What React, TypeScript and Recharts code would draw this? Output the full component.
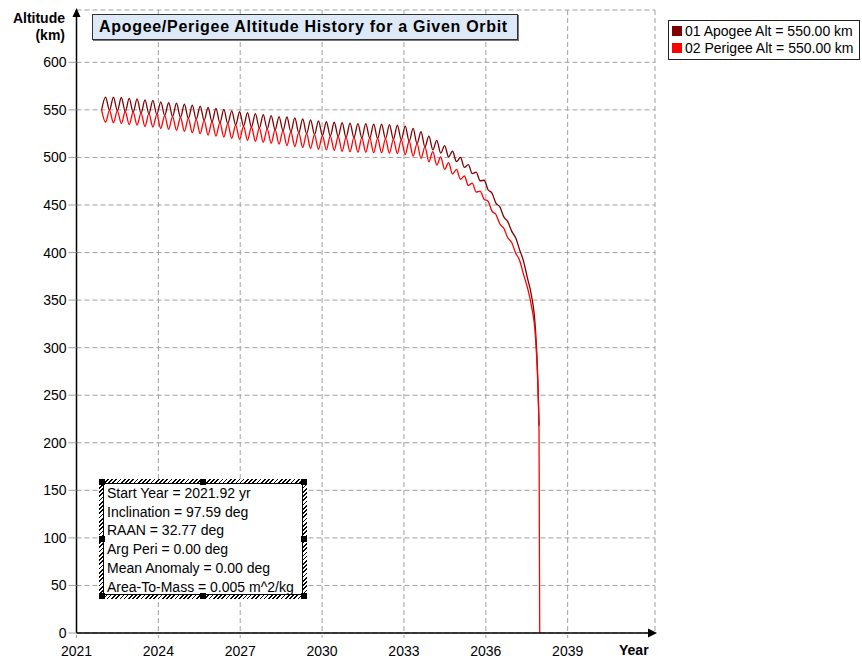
import { LineChart, Line, XAxis, YAxis, CartesianGrid } from 'recharts';

// sample times (yr): alternating near-circular points and apogee/perigee extremes
const sampleYears = [
  2021.92, 2022.065, 2022.209, 2022.354, 2022.498, 2022.643, 2022.787, 2022.932, 2023.076, 2023.221,
  2023.365, 2023.51, 2023.654, 2023.799, 2023.943, 2024.088, 2024.232, 2024.377, 2024.521, 2024.666,
  2024.81, 2024.955, 2025.099, 2025.244, 2025.388, 2025.533, 2025.677, 2025.822, 2025.966, 2026.111,
  2026.255, 2026.4, 2026.544, 2026.689, 2026.833, 2026.978, 2027.122, 2027.267, 2027.411, 2027.556,
  2027.7, 2027.845, 2027.989, 2028.134, 2028.278, 2028.423, 2028.567, 2028.712, 2028.856, 2029.001,
  2029.145, 2029.29, 2029.434, 2029.579, 2029.723, 2029.868, 2030.012, 2030.157, 2030.301, 2030.446,
  2030.59, 2030.735, 2030.879, 2031.024, 2031.168, 2031.313, 2031.457, 2031.602, 2031.746, 2031.891,
  2032.035, 2032.18, 2032.324, 2032.469, 2032.613, 2032.758, 2032.902, 2033.047, 2033.191, 2033.336,
  2033.48, 2033.625, 2033.769, 2033.914, 2034.058, 2034.203, 2034.347, 2034.492, 2034.636, 2034.781,
  2034.925, 2035.07, 2035.214, 2035.359, 2035.503, 2035.648, 2035.792, 2035.937, 2036.081, 2036.226,
  2036.37, 2036.515, 2036.659, 2036.804, 2036.948, 2037.093, 2037.237, 2037.382, 2037.526, 2037.671,
  2037.815, 2037.9, 2037.95, 2037.975,
];

const apogeeAlt = [
  550, 563.5, 549.5, 563.5, 549, 563, 548, 562, 547.5, 561.5,
  546.5, 560.5, 546, 560, 545, 558.5, 544, 557.5, 543, 557,
  542, 556, 541, 555, 540, 554, 539, 552.5, 537.5, 551.5,
  536.5, 550.5, 535.5, 549, 534, 548, 533, 547, 532, 546,
  531, 545, 530, 544, 529, 543, 528, 542.5, 527, 541.5,
  526, 540.5, 525, 539.5, 524, 538.5, 523, 537.5, 522.5, 537,
  522, 536.5, 521, 536, 521, 535.5, 520.5, 535.5, 520.5, 535,
  520, 535, 519.5, 534.5, 519, 534, 518.5, 533, 517, 530.5,
  514.5, 527, 511, 522.5, 508, 518, 504.5, 512.5, 500.5, 506.5,
  495.5, 500, 489.5, 492.5, 483, 484.5, 475.5, 476, 466, 462.5,
  452, 448, 437.5, 432.5, 422.5, 415.5, 403, 391, 373, 355,
  321, 272, 218, null,
];

const perigeeAlt = [
  550, 537, 549.5, 536.5, 549, 535.5, 548, 534.5, 547.5, 534,
  546.5, 532.5, 546, 532, 545, 530.5, 544, 529.5, 543, 528.5,
  542, 527.5, 541, 526, 540, 525, 539, 523.5, 537.5, 522.5,
  536.5, 521.5, 535.5, 520, 534, 519, 533, 518, 532, 517,
  531, 516, 530, 515, 529, 514, 528, 512.5, 527, 511.5,
  526, 510.5, 525, 509.5, 524, 508.5, 523, 508, 522.5, 507.5,
  522, 506.5, 521, 506, 521, 505.5, 520.5, 505.5, 520.5, 505,
  520, 505, 519.5, 504.5, 519, 504, 518.5, 503, 517, 501.5,
  514.5, 499, 511, 495.5, 506, 492, 500.5, 487.5, 494.5, 482.5,
  487.5, 477, 480.5, 470.5, 473, 463.5, 464.5, 456, 454, 443.5,
  440, 430, 425.5, 415.5, 410.5, 399.5, 392, 377, 363, 344,
  313, 266, 212, 0,
];

const yearTicks = [2021, 2024, 2027, 2030, 2033, 2036, 2039];
const altTicks = [0, 50, 100, 150, 200, 250, 300, 350, 400, 450, 500, 550, 600];

const seriesNames = ['01 Apogee Alt = 550.00 km', '02 Perigee Alt = 550.00 km'];
const seriesColors = ['#800000', '#ff0000'];

const infoLines = [
  'Start Year = 2021.92 yr',
  'Inclination = 97.59 deg',
  'RAAN = 32.77 deg',
  'Arg Peri = 0.00 deg',
  'Mean Anomaly = 0.00 deg',
  'Area-To-Mass = 0.005 m^2/kg',
];

const rows = sampleYears.map((year, i) => ({
  year,
  apogee: apogeeAlt[i],
  perigee: perigeeAlt[i],
}));

const W = 846;
const H = 653;
const FONT = '"Liberation Sans", Arial, sans-serif';

const handle = (left: number, top: number) => (
  <div
    key={`${left}-${top}`}
    style={{ position: 'absolute', left, top, width: 6, height: 6, background: '#000' }}
  />
);

export default function App() {
  return (
    <div style={{ position: 'absolute', width: W, height: H, fontFamily: FONT, color: '#000' }}>
      <LineChart
        width={W}
        height={H}
        data={rows}
        margin={{ top: 2, right: 199, bottom: 0, left: 0 }}
      >
        <CartesianGrid stroke="#a0a0a0" strokeDasharray="5 3" />
        <XAxis
          type="number"
          dataKey="year"
          domain={[2021, 2042.2]}
          ticks={yearTicks}
          height={28}
          axisLine={{ stroke: '#000', strokeWidth: 1.5 }}
          tickLine={{ stroke: '#a0a0a0', strokeDasharray: '3 2' }}
          tickSize={5}
          tickMargin={8}
          tick={{ fill: '#000', fontSize: 14 }}
        />
        <YAxis
          type="number"
          domain={[0, 655]}
          ticks={altTicks}
          width={68.5}
          axisLine={{ stroke: '#000', strokeWidth: 1.5 }}
          tickLine={{ stroke: '#a0a0a0' }}
          tickSize={8}
          tickMargin={2}
          tick={{ fill: '#000', fontSize: 14 }}
        />
        <Line
          dataKey="apogee"
          type="monotone"
          stroke={seriesColors[0]}
          strokeWidth={1.3}
          dot={false}
          isAnimationActive={false}
        />
        <Line
          dataKey="perigee"
          type="monotone"
          stroke={seriesColors[1]}
          strokeWidth={1.3}
          dot={false}
          isAnimationActive={false}
        />
      </LineChart>

      {/* axis arrow heads */}
      <svg
        width={W}
        height={H}
        style={{ position: 'absolute', left: 0, top: 0, overflow: 'visible', pointerEvents: 'none' }}
      >
        <polygon points="68.5,0 64.5,9 72.5,9" fill="#000" />
        <polygon points="649,625 640,620.5 640,629.5" fill="#000" />
      </svg>

      {/* axis titles */}
      <div
        style={{
          position: 'absolute', left: 0, top: 2, width: 57, textAlign: 'right',
          fontWeight: 'bold', fontSize: 14, lineHeight: '17px',
        }}
      >
        Altitude
        <br />
        (km)
      </div>
      <div style={{ position: 'absolute', left: 611, top: 634, fontWeight: 'bold', fontSize: 14 }}>
        Year
      </div>

      {/* title */}
      <div
        style={{
          position: 'absolute', left: 84, top: 6, width: 418, height: 24,
          background: '#dde9f7', border: '1px solid #333', boxShadow: '1px 1px 0 #777',
          fontWeight: 'bold', fontSize: 16, letterSpacing: 0.7, lineHeight: '24px', paddingLeft: 6,
          whiteSpace: 'nowrap',
        }}
      >
        Apogee/Perigee Altitude History for a Given Orbit
      </div>

      {/* legend */}
      <div
        style={{
          position: 'absolute', left: 660, top: 12, width: 190, height: 36,
          border: '1px solid #222', background: '#fff', padding: '1px 0',
        }}
      >
        {seriesNames.map((name, i) => (
          <div key={name} style={{ display: 'flex', alignItems: 'center', height: 17, paddingLeft: 3 }}>
            <div style={{ width: 10, height: 10, background: seriesColors[i], marginRight: 3 }} />
            <span style={{ fontSize: 14, whiteSpace: 'nowrap' }}>{name}</span>
          </div>
        ))}
      </div>

      {/* orbit info box */}
      <div
        style={{
          position: 'absolute', left: 91, top: 471, width: 208, height: 120,
          background: 'repeating-linear-gradient(135deg, #000 0px, #000 1.2px, #fff 1.2px, #fff 3px)',
        }}
      >
        <div
          style={{
            position: 'absolute', left: 4, top: 4, right: 4, bottom: 4,
            border: '1px solid #000', background: '#fff', paddingLeft: 3,
            fontSize: 14, lineHeight: '18.7px', whiteSpace: 'nowrap',
          }}
        >
          {infoLines.map((t) => (
            <div key={t}>{t}</div>
          ))}
        </div>
        {[
          handle(0, 0), handle(101, 0), handle(202, 0),
          handle(0, 57), handle(202, 57),
          handle(0, 114), handle(101, 114), handle(202, 114),
        ]}
      </div>
    </div>
  );
}
